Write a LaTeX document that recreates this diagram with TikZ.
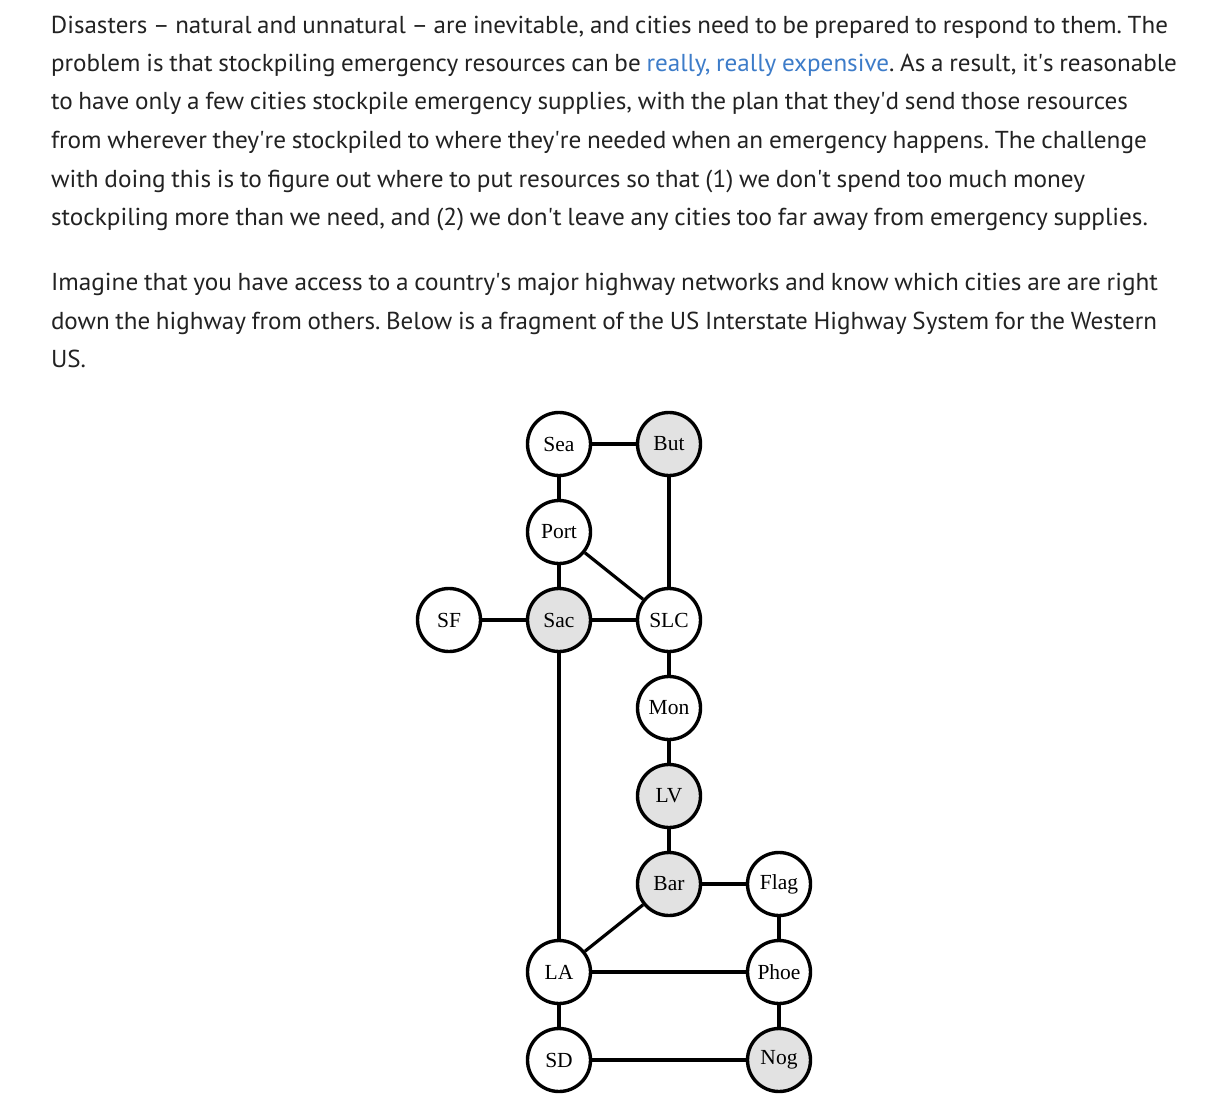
\documentclass[tikz,border=0pt]{standalone}
\usepackage{fontspec}
\usepackage{graphicx}
\newfontfamily\bodyfont{PT Sans}[WordSpace=0.85]
\newfontfamily\labelfont{Liberation Serif}
\definecolor{bodytext}{HTML}{222222}
\definecolor{linkblue}{HTML}{3D7CC9}
\definecolor{shade}{HTML}{E2E2E2}
\frenchspacing
\newsavebox\fitbox
\newlength\fitlen
\newcommand{\fitline}[2]{%
  \sbox\fitbox{\frenchspacing #2}%
  \setlength\fitlen{\wd\fitbox}%
  \pgfmathsetmacro\fitratio{#1/\fitlen}%
  \scalebox{\fitratio}[1]{\usebox\fitbox}}
\newcommand{\q}{\textquotesingle}
\tikzset{
  bodyline/.style={anchor=base west, inner sep=0pt, outer sep=0pt, text=bodytext,
    font=\bodyfont\fontsize{24.5}{28}\selectfont},
  city/.style={circle, draw=black, line width=3.4pt, minimum size=63pt, inner sep=0pt,
    fill=white, font=\labelfont\fontsize{21.5}{24}\selectfont},
  citygray/.style={city, fill=shade},
  road/.style={line width=3.2pt, draw=black}
}
\begin{document}
\begin{tikzpicture}[x=1pt, y=-1pt]
\useasboundingbox (0,0) rectangle (1216,1111);
\fill[white] (0,0) rectangle (1216,1111);

\node[bodyline] (t1) at (51,33) {\fitline{1117}{Disasters – natural and unnatural – are inevitable, and cities need to be prepared to respond to them. The}};
\node[bodyline] (t2) at (51,71) {\fitline{1126}{problem is that stockpiling emergency resources can be \textcolor{linkblue}{really, really expensive}. As a result, it\q s reasonable}};
\node[bodyline] (t3) at (51,109) {\fitline{1077}{to have only a few cities stockpile emergency supplies, with the plan that they\q d send those resources}};
\node[bodyline] (t4) at (51,148) {\fitline{1096}{from wherever they\q re stockpiled to where they\q re needed when an emergency happens. The challenge}};
\node[bodyline] (t5) at (51,187) {\fitline{1034}{with doing this is to figure out where to put resources so that (1) we don\q t spend too much money}};
\node[bodyline] (t6) at (51,225) {\fitline{1097}{stockpiling more than we need, and (2) we don\q t leave any cities too far away from emergency supplies.}};
\node[bodyline] (t7) at (51,290) {\fitline{1107}{Imagine that you have access to a country\q s major highway networks and know which cities are are right}};
\node[bodyline] (t8) at (51,329) {\fitline{1106}{down the highway from others. Below is a fragment of the US Interstate Highway System for the Western}};
\node[bodyline] (t9) at (51,367) {\fitline{35}{US.}};

\node[city] (Sea) at (559,444) {Sea};
\node[citygray] (But) at (669,444) {But};
\node[city] (Port) at (559,532) {Port};
\node[city] (SF) at (449,620) {SF};
\node[citygray] (Sac) at (559,620) {Sac};
\node[city] (SLC) at (669,620) {SLC};
\node[city] (Mon) at (669,708) {Mon};
\node[citygray] (LV) at (669,796) {LV};
\node[citygray] (Bar) at (669,884) {Bar};
\node[city] (Flag) at (779,884) {Flag};
\node[city] (LA) at (559,972) {LA};
\node[city] (Phoe) at (779,972) {Phoe};
\node[city] (SD) at (559,1060) {SD};
\node[citygray] (Nog) at (779,1060) {Nog};

\draw[road] (Sea) -- (But);
\draw[road] (Sea) -- (Port);
\draw[road] (Port) -- (Sac);
\draw[road] (Port) -- (SLC);
\draw[road] (But) -- (SLC);
\draw[road] (SF) -- (Sac);
\draw[road] (Sac) -- (SLC);
\draw[road] (Sac) -- (LA);
\draw[road] (SLC) -- (Mon);
\draw[road] (Mon) -- (LV);
\draw[road] (LV) -- (Bar);
\draw[road] (Bar) -- (Flag);
\draw[road] (Bar) -- (LA);
\draw[road] (Flag) -- (Phoe);
\draw[road] (LA) -- (Phoe);
\draw[road] (LA) -- (SD);
\draw[road] (Phoe) -- (Nog);
\draw[road] (SD) -- (Nog);
\end{tikzpicture}
\end{document}
